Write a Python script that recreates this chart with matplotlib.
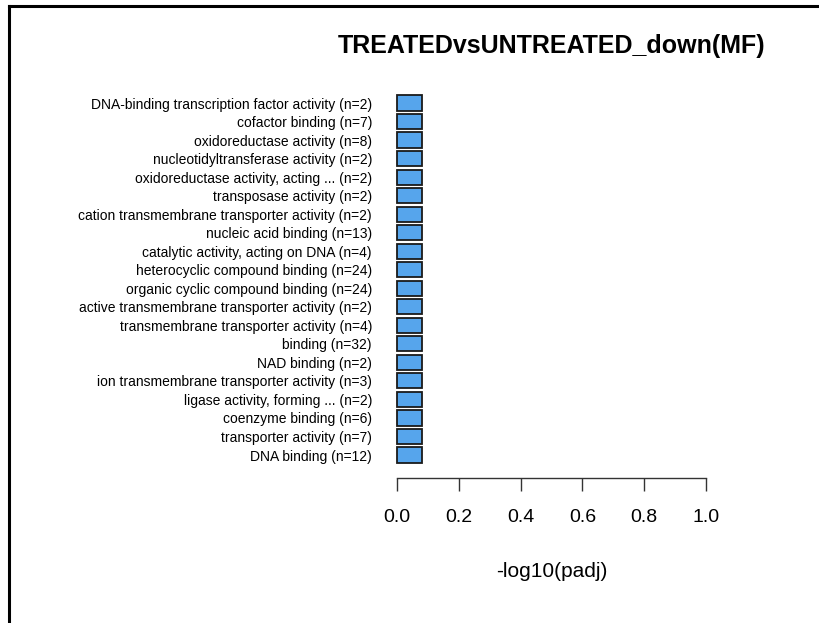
import matplotlib.pyplot as plt
from matplotlib.lines import Line2D

# GO terms (top to bottom as drawn)
terms = [
    "DNA-binding transcription factor activity (n=2)",
    "cofactor binding (n=7)",
    "oxidoreductase activity (n=8)",
    "nucleotidyltransferase activity (n=2)",
    "oxidoreductase activity, acting ... (n=2)",
    "transposase activity (n=2)",
    "cation transmembrane transporter activity (n=2)",
    "nucleic acid binding (n=13)",
    "catalytic activity, acting on DNA (n=4)",
    "heterocyclic compound binding (n=24)",
    "organic cyclic compound binding (n=24)",
    "active transmembrane transporter activity (n=2)",
    "transmembrane transporter activity (n=4)",
    "binding (n=32)",
    "NAD binding (n=2)",
    "ion transmembrane transporter activity (n=3)",
    "ligase activity, forming ... (n=2)",
    "coenzyme binding (n=6)",
    "transporter activity (n=7)",
    "DNA binding (n=12)",
]
neglog_padj = [0.082] * 20
xticks = [0.0, 0.2, 0.4, 0.6, 0.8, 1.0]

plt.rcParams['font.family'] = ['Liberation Sans', 'DejaVu Sans']

W, H = 819, 623
fig = plt.figure(figsize=(W / 100, H / 100), dpi=100)

# axes placed in pixel terms: x 397..706, y 90..478
left, right, top, bottom = 397, 706, 90, 478
ax = fig.add_axes([left / W, 1 - bottom / H, (right - left) / W, (bottom - top) / H])

pitch = 18.526
yc0 = 455  # pixel centre of bottom bar
ypos = list(range(len(terms)))[::-1]
ax.barh(ypos, neglog_padj, height=0.82, color='#56A5EC', edgecolor='#1a1a1a',
        linewidth=1.3, clip_on=False)

ax.set_xlim(0, 1)
ax.set_ylim(-(bottom - yc0) / pitch, (yc0 - top) / pitch)

for s in ['top', 'right', 'left']:
    ax.spines[s].set_visible(False)
ax.spines['bottom'].set_color('#333333')
ax.spines['bottom'].set_linewidth(1.0)

ax.set_xticks(xticks)
ax.set_xticklabels([f"{v:.1f}" for v in xticks], fontsize=14)
ax.tick_params(axis='x', length=9, width=1.0, color='#333333', pad=13)

ax.set_yticks(ypos)
ax.set_yticklabels(terms, fontsize=10)
ax.tick_params(axis='y', length=0, pad=18)

ax.set_xlabel("-log10(padj)", fontsize=15, labelpad=26)

fig.text((left + right) / 2 / W, 1 - 46 / H, "TREATEDvsUNTREATED_down(MF)",
         ha='center', va='center', fontsize=18, fontweight='bold')

# outer frame (only left and top edges visible in the image)
fig.add_artist(Line2D([9 / W, 9 / W], [0, 1 - 6 / H], transform=fig.transFigure,
                      color='black', linewidth=2.2))
fig.add_artist(Line2D([9 / W, 1], [1 - 6 / H, 1 - 6 / H], transform=fig.transFigure,
                      color='black', linewidth=2.2))

fig.savefig('out.png', dpi=100)
